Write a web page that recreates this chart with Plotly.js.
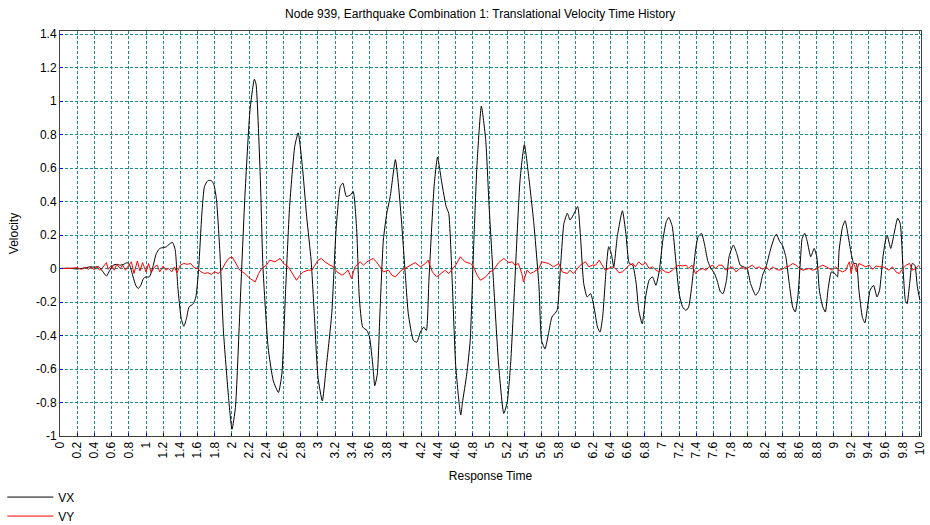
<!DOCTYPE html>
<html><head><meta charset="utf-8">
<script src="https://cdn.plot.ly/plotly-3.0.1.min.js"></script>
<style>html,body{margin:0;padding:0;background:#fff}#chart{width:930px;height:525px}</style>
</head><body><div id="chart"></div>
<script>
const chartTitle = 'Node 939, Earthquake Combination 1: Translational Velocity Time History';
const xTitle = 'Response Time';
const yTitle = 'Velocity';
const seriesNames = ['VX', 'VY'];

const yTickVals = [-1,-0.8,-0.6,-0.4,-0.2,0,0.2,0.4,0.6,0.8,1,1.2,1.4];
const yTickText = ['-1','-0.8','-0.6','-0.4','-0.2','0','0.2','0.4','0.6','0.8','1','1.2','1.4'];

const vxTime = [0,0.1,0.2,0.3,0.35,0.4,0.45,0.5,0.54,0.58,0.62,0.66,0.7,0.74,0.78,0.81,0.85,0.88,0.91,0.94,0.97,1.0,1.04,1.08,1.12,1.16,1.2,1.24,1.28,1.31,1.34,1.37,1.41,1.44,1.47,1.5,1.55,1.58,1.61,1.65,1.68,1.72,1.76,1.79,1.82,1.86,1.9,1.96,2.0,
2.04,2.09,2.15,2.21,2.26,2.28,2.33,2.36,2.42,2.48,2.54,2.58,2.62,2.67,2.73,2.77,2.82,2.87,2.92,2.96,3.0,3.05,3.1,3.16,3.21,3.26,3.29,3.33,3.38,3.41,3.45,3.48,3.52,3.57,3.6,3.64,3.66,3.69,3.72,3.76,3.8,3.84,3.9,3.93,3.97,
4.02,4.05,4.11,4.15,4.19,4.23,4.26,4.29,4.35,4.39,4.44,4.49,4.52,4.56,4.6,4.64,4.66,4.68,4.73,4.77,4.81,4.85,4.9,4.95,4.99,5.04,5.1,5.16,5.2,5.24,5.29,5.35,5.4,5.45,5.51,5.57,5.6,5.64,5.68,5.72,5.78,5.82,5.86,5.9,5.93,5.97,
6.02,6.05,6.09,6.13,6.17,6.21,6.25,6.28,6.31,6.35,6.38,6.41,6.44,6.48,6.54,6.58,6.62,6.66,6.7,6.73,6.77,6.81,6.85,6.89,6.93,6.97,7.01,7.05,7.08,7.12,7.16,7.2,7.24,7.28,7.31,7.35,7.39,7.42,7.46,7.5,7.53,7.56,7.61,7.64,7.68,7.71,7.75,7.78,7.83,7.87,7.91,7.95,7.99,
8.03,8.09,8.13,8.17,8.21,8.26,8.31,8.33,8.37,8.4,8.44,8.48,8.52,8.55,8.58,8.61,8.63,8.66,8.69,8.73,8.77,8.8,8.83,8.87,8.9,8.93,8.97,9.01,9.04,9.06,9.1,9.13,9.16,9.2,9.23,9.26,9.29,9.33,9.36,9.39,9.42,9.46,9.5,9.53,9.57,9.6,9.62,9.66,9.7,9.74,9.77,9.8,9.83,9.85,9.88,9.91,9.94,9.97,10.0];

const vxValue = [0,0.002,-0.003,0.005,0.01,0.008,0.01,-0.02,-0.045,-0.01,0.02,0.025,0.02,0.025,0.035,0.02,-0.05,-0.1,-0.12,-0.1,-0.06,-0.05,-0.05,0.01,0.09,0.12,0.125,0.13,0.15,0.155,0.11,-0.11,-0.3,-0.345,-0.3,-0.23,-0.21,-0.17,-0.02,0.33,0.49,0.525,0.525,0.5,0.41,0.09,-0.37,-0.77,-0.96,
-0.83,-0.27,0.43,0.95,1.13,1.1,0.53,0.01,-0.47,-0.67,-0.74,-0.63,-0.17,0.37,0.73,0.81,0.6,0.3,0.05,-0.3,-0.65,-0.79,-0.57,-0.27,0.23,0.49,0.51,0.43,0.44,0.46,0.23,-0.17,-0.35,-0.37,-0.41,-0.59,-0.7,-0.63,-0.27,0.17,0.33,0.43,0.65,0.53,0.29,
-0.07,-0.27,-0.43,-0.44,-0.38,-0.35,-0.37,-0.07,0.49,0.665,0.51,0.37,0.33,-0.07,-0.57,-0.8,-0.875,-0.8,-0.63,-0.43,0.13,0.63,0.97,0.77,0.37,-0.07,-0.57,-0.865,-0.8,-0.57,-0.07,0.53,0.74,0.55,0.27,-0.11,-0.43,-0.48,-0.39,-0.29,-0.25,0.01,0.27,0.33,0.29,0.32,
0.37,0.21,-0.09,-0.17,-0.15,-0.23,-0.35,-0.38,-0.29,-0.01,0.13,0.09,0.01,0.19,0.345,0.21,0.03,0.02,-0.09,-0.25,-0.33,-0.17,-0.07,-0.05,-0.1,-0.01,0.17,0.28,0.305,0.25,0.05,-0.15,-0.23,-0.25,-0.23,-0.09,0.11,0.19,0.21,0.13,0.05,0.01,-0.03,-0.07,-0.14,-0.15,-0.07,0.07,0.14,0.09,0.02,0.01,0.0,
-0.09,-0.16,-0.13,-0.04,0.01,0.11,0.19,0.205,0.16,0.14,0.07,-0.09,-0.23,-0.26,-0.17,0.05,0.18,0.21,0.16,0.07,0.12,0.07,-0.13,-0.23,-0.26,-0.13,-0.02,-0.03,-0.05,0.11,0.25,0.285,0.21,0.09,0.03,0.03,-0.13,-0.29,-0.325,-0.23,-0.13,-0.1,-0.17,-0.13,0.07,0.17,0.195,0.12,0.21,0.3,0.27,0.03,-0.19,-0.21,-0.09,0.03,0.02,-0.11,-0.19];

const vyTime = [0,0.1,0.2,0.25,0.3,0.33,0.36,0.4,0.43,0.46,0.5,0.54,0.56,0.6,0.63,0.66,0.7,0.73,0.76,0.8,0.83,0.86,0.9,0.93,0.96,1.0,1.03,1.06,1.1,1.13,1.16,1.2,1.23,1.26,1.3,1.33,1.36,1.4,1.44,1.48,1.52,1.56,1.6,1.64,1.68,1.72,1.76,1.8,1.84,1.88,1.92,1.96,
2.0,2.035,2.09,2.15,2.21,2.27,2.31,2.345,2.4,2.44,2.5,2.56,2.6,2.655,2.69,2.75,2.79,2.83,2.89,2.93,2.965,3.0,3.04,3.08,3.14,3.18,3.22,3.28,3.31,3.35,3.39,3.43,3.49,3.53,3.57,3.6,3.64,3.68,3.72,3.76,3.82,3.86,3.9,3.93,3.97,
4.01,4.05,4.13,4.19,4.25,4.28,4.33,4.38,4.44,4.48,4.52,4.56,4.6,4.655,4.71,4.77,4.81,4.85,4.89,4.95,5.0,5.04,5.1,5.16,5.22,5.26,5.29,5.33,5.37,5.39,5.43,5.47,5.51,5.57,5.6,5.68,5.74,5.8,5.84,5.9,5.93,5.97,
6.02,6.05,6.11,6.15,6.19,6.23,6.27,6.31,6.34,6.38,6.42,6.46,6.5,6.54,6.58,6.62,6.66,6.69,6.73,6.77,6.81,6.85,6.89,6.93,6.97,7.0,7.04,7.08,7.12,7.16,7.2,7.24,7.28,7.31,7.35,7.39,7.43,7.47,7.51,7.55,7.59,7.62,7.66,7.7,7.74,7.78,7.82,7.86,7.9,7.93,7.97,
8.02,8.05,8.09,8.13,8.17,8.21,8.25,8.29,8.33,8.36,8.4,8.44,8.48,8.52,8.56,8.6,8.64,8.67,8.71,8.75,8.79,8.83,8.87,8.91,8.95,8.98,9.02,9.06,9.1,9.14,9.16,9.18,9.2,9.22,9.24,9.26,9.29,9.33,9.37,9.41,9.45,9.49,9.53,9.57,9.6,9.64,9.68,9.72,9.76,9.8,9.84,9.88,9.91,9.95,9.99];

const vyValue = [0,0,0.005,-0.005,0.008,-0.006,0.01,-0.008,0.012,-0.01,0.008,0.035,-0.005,0.02,-0.01,0.025,0.0,0.02,-0.01,0.015,0.04,-0.03,0.045,-0.015,0.035,-0.02,0.03,-0.025,0.01,0.02,-0.02,0.015,-0.01,0.0,-0.02,0.01,-0.025,0.02,0.03,0.025,0.03,0.005,0.0,-0.02,-0.03,-0.025,-0.035,-0.02,-0.03,-0.01,0.03,0.06,
0.07,0.04,-0.01,-0.03,-0.06,-0.08,-0.03,0.0,0.02,0.05,0.04,0.06,0.03,0.01,-0.02,-0.07,-0.04,-0.02,-0.01,-0.01,0.02,0.05,0.06,0.04,0.02,0.01,-0.02,-0.04,-0.03,-0.01,-0.06,0.01,0.04,0.02,0.04,0.05,0.06,0.04,0.01,-0.02,-0.01,-0.04,-0.05,-0.03,-0.01,
0.0,0.01,0.035,0.01,0.03,0.05,-0.02,-0.05,-0.025,-0.01,-0.03,-0.005,0.02,0.07,0.04,0.03,0.01,-0.04,-0.07,-0.05,-0.02,-0.01,0.035,0.06,0.035,0.04,0.02,0.03,-0.03,-0.08,-0.01,-0.03,-0.02,0.0,0.04,0.03,0.01,0.03,-0.02,-0.03,-0.01,-0.03,
0.0,0.02,0.04,0.01,0.02,0.02,0.05,0.02,-0.01,0.0,0.01,0.0,-0.025,-0.02,0.0,0.02,0.03,0.01,0.04,0.02,0.035,0.0,0.01,-0.01,-0.02,-0.005,-0.02,-0.025,-0.01,0.01,0.02,0.015,0.02,0.0,0.02,-0.03,-0.01,0.0,-0.01,0.01,0.02,0.0,0.02,0.02,-0.01,0.0,0.01,-0.02,0.0,0.01,-0.005,
0.01,0.02,0.0,0.01,-0.005,0.01,-0.01,0.01,-0.005,-0.01,-0.005,0.01,0.015,0.03,0.02,0.0,-0.01,-0.005,0.0,-0.01,-0.005,0.01,0.02,0.01,0.0,-0.01,0.01,-0.01,-0.02,-0.01,0.02,0.04,-0.03,0.03,0.02,-0.02,0.03,0.02,0.01,0.02,-0.005,0.015,0.01,0.01,0.0,-0.01,0.01,-0.02,-0.03,0.0,0.02,0.03,-0.01,0.0,0.02];

const traces = [
  {type:'scatter', mode:'lines', name:seriesNames[0], x:vxTime, y:vxValue, line:{color:'#000000', width:1, shape:'spline', smoothing:0.5}},
  {type:'scatter', mode:'lines', name:seriesNames[1], x:vyTime, y:vyValue, line:{color:'#ff0000', width:1}}
];

const axisCommon = {
  showgrid:true, gridcolor:'#1a8f8f', griddash:'3px,2px', gridwidth:1,
  zeroline:false, showline:true, linecolor:'#404040', linewidth:1, mirror:true,
  ticks:'inside', ticklen:3, tickcolor:'#0000ff', tickfont:{size:12, color:'#000'},
  automargin:false
};

const layout = {
  width:930, height:525,
  margin:{l:60, r:9, t:31, b:89, autoexpand:false},
  paper_bgcolor:'#ffffff', plot_bgcolor:'#ffffff',
  font:{family:'"Liberation Sans", Arial, sans-serif', size:12, color:'#000'},
  title:{text:chartTitle, x:0.488, xref:'paper', xanchor:'center', y:0.973, yref:'container', yanchor:'middle', font:{size:12}},
  xaxis:Object.assign({}, axisCommon, {range:[0,10.012], tick0:0, dtick:0.2, tickangle:-90,
    title:{text:xTitle, font:{size:12}, standoff:14}}),
  yaxis:Object.assign({}, axisCommon, {range:[-1,1.418], tickvals:yTickVals, ticktext:yTickText,
    title:{text:yTitle, font:{size:12}, standoff:14}}),
  showlegend:true,
  legend:{x:-0.067, xanchor:'left', y:-0.115, yanchor:'top', bgcolor:'rgba(0,0,0,0)', font:{size:12}, itemwidth:46, tracegroupgap:0}
};

Plotly.newPlot('chart', traces, layout, {displayModeBar:false, staticPlot:true});
</script>
</body></html>
